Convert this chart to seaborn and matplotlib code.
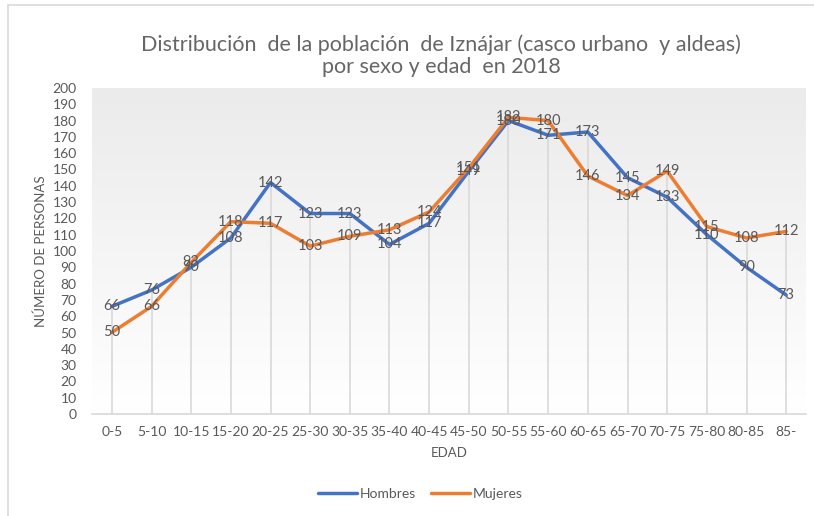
import numpy as np
import pandas as pd
import matplotlib
matplotlib.use("Agg")
import matplotlib.pyplot as plt
from matplotlib.lines import Line2D
import seaborn as sns

grupos = ["0-5", "5-10", "10-15", "15-20", "20-25", "25-30", "30-35", "35-40",
          "40-45", "45-50", "50-55", "55-60", "60-65", "65-70", "70-75", "75-80",
          "80-85", "85-"]
hombres = [66, 76, 90, 108, 142, 123, 123, 104, 117, 149, 180, 171, 173, 145, 133, 110, 90, 73]
mujeres = [50, 66, 93, 118, 117, 103, 109, 113, 124, 151, 182, 180, 146, 134, 149, 115, 108, 112]
y_ticks = list(range(0, 201, 10))

sns.set_theme(style="white")
plt.rcParams["font.family"] = ["Lato", "DejaVu Sans"]

GRIS = "#595959"
AZUL = "#4472C4"
NARANJA = "#ED7D31"

df = pd.DataFrame({
    "pos": list(range(len(grupos))) * 2,
    "valor": hombres + mujeres,
    "sexo": ["Hombres"] * len(grupos) + ["Mujeres"] * len(grupos),
})

fig = plt.figure(figsize=(8.14, 5.16), dpi=100)
ax = fig.add_axes([92 / 814, 1 - 414 / 516, 714 / 814, 326 / 516])

# fondo degradado del area de trazado
grad = np.linspace(1.0, 0.0, 256).reshape(-1, 1)
ax.imshow(grad, extent=[-0.5, len(grupos) - 0.5, 0, 200], aspect="auto",
          cmap=matplotlib.colors.LinearSegmentedColormap.from_list("g", ["#ffffff", "#ebebeb"]),
          zorder=0)

# lineas de proyeccion
tope = np.maximum(hombres, mujeres)
ax.vlines(range(len(grupos)), 0, tope, color="#d9d9d9", lw=1.2, zorder=1)

sns.lineplot(data=df, x="pos", y="valor", hue="sexo",
             palette={"Hombres": AZUL, "Mujeres": NARANJA},
             lw=2.5, ax=ax, legend=False, zorder=3)

for serie in (hombres, mujeres):
    for i, v in enumerate(serie):
        ax.text(i, v, str(v), ha="center", va="center", fontsize=10.5,
                color=GRIS, zorder=4)

ax.set_xlim(-0.5, len(grupos) - 0.5)
ax.set_ylim(0, 200)
ax.set_yticks(y_ticks)
ax.set_xticks(range(len(grupos)))
ax.set_xticklabels(grupos)
ax.tick_params(axis="both", length=0, labelsize=10, colors=GRIS)
ax.tick_params(axis="y", pad=11)
ax.tick_params(axis="x", pad=9)
for s in ["top", "right", "left"]:
    ax.spines[s].set_visible(False)
ax.spines["bottom"].set_color("#d9d9d9")
ax.spines["bottom"].set_linewidth(1.2)

ax.set_xlabel("EDAD", fontsize=9.5, color=GRIS, labelpad=6)
ax.set_ylabel("NÚMERO DE PERSONAS", fontsize=9.5, color=GRIS, labelpad=4)

fig.text(441 / 814, 1 - 56 / 516,
         "Distribución  de la población  de Iznájar (casco urbano  y aldeas)\npor sexo y edad  en 2018",
         ha="center", va="center", fontsize=15.5, color="#666666", linespacing=1.1)

handles = [Line2D([], [], color=AZUL, lw=2.5), Line2D([], [], color=NARANJA, lw=2.5)]
fig.legend(handles, ["Hombres", "Mujeres"], loc="center", ncol=2,
           bbox_to_anchor=(420 / 814, 1 - 494 / 516), frameon=False,
           fontsize=10, labelcolor=GRIS, handlelength=2.8, handletextpad=0.2,
           columnspacing=1.1)

# borde del grafico
fig.add_artist(Line2D([8 / 814, 8 / 814], [0, 1 - 5 / 516], color="#d9d9d9", lw=1.2))
fig.add_artist(Line2D([8 / 814, 1], [1 - 5 / 516, 1 - 5 / 516], color="#d9d9d9", lw=1.2))

fig.savefig("out.png", dpi=100)
